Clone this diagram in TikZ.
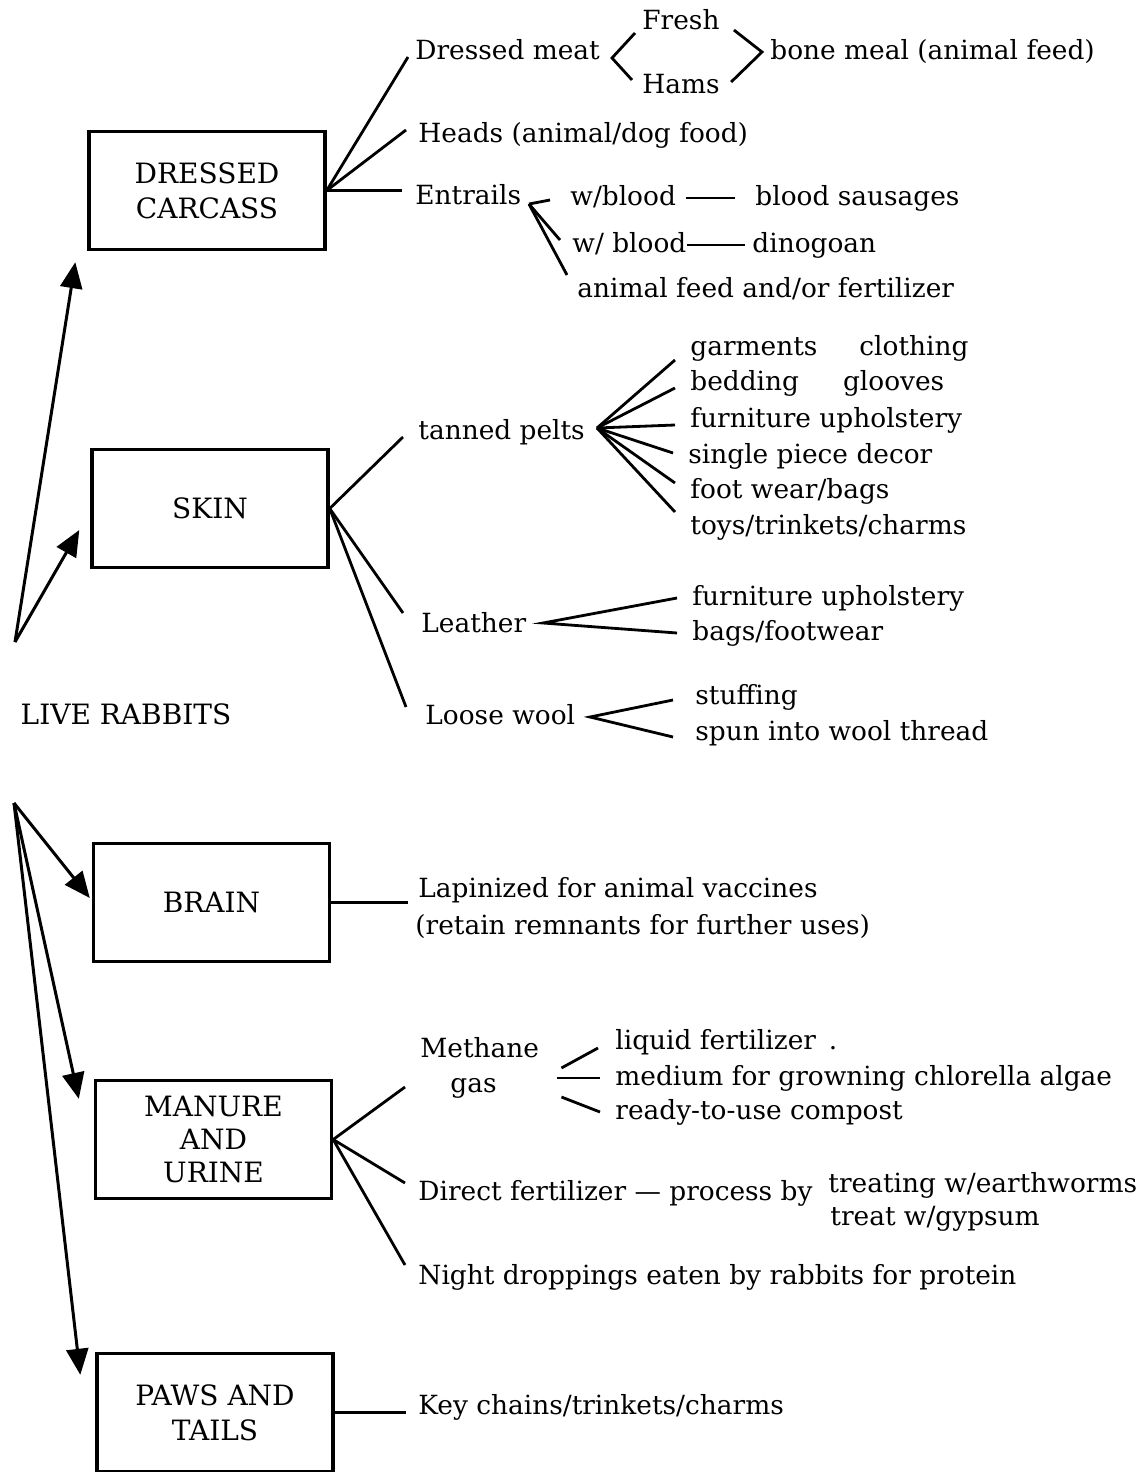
\documentclass[tikz,border=0pt]{standalone}
\usepackage{fontspec}
\setmainfont{DejaVu Serif}
\usetikzlibrary{arrows.meta}
\tikzset{
  part/.style={draw, line width=1.7pt, minimum width=118pt, minimum height=59pt,
    align=center, inner sep=0pt, font=\fontsize{14}{17.5}\selectfont},
  prod/.style={anchor=west, inner sep=0pt, text height=9.5pt, text depth=2.5pt,
    font=\fontsize{13.2}{16}\selectfont},
  branch/.style={line width=1.4pt},
  feed/.style={line width=1.5pt, -{Triangle[length=13pt,width=11pt]}},
}
\begin{document}
\begin{tikzpicture}[x=0.5pt,y=-0.5pt]
    \fill [white] (0,0) rectangle (1138,1472);
    \useasboundingbox (0,0) rectangle (1138,1472);
    % the five parts
    \node [part] (dc) at (207,190.5) {DRESSED\\CARCASS};
    \node [part] (skin) at (210,508.5) {SKIN};
    \node [part] (brain) at (211.5,902.5) {BRAIN};
    \node [part,font=\fontsize{14}{16.5}\selectfont] (manure) at (213.5,1139.5) {MANURE\\AND\\URINE};
    \node [part] (paws) at (215,1412.5) {PAWS AND\\TAILS};
    \node [prod,anchor=center,font=\fontsize{14}{17}\selectfont] (live) at (126,717) {LIVE RABBITS};
    \coordinate (up) at (15,642);
    \coordinate (dn) at (14,803);
    \draw [feed] (up) -- ([xshift=-6pt,yshift=-5.5pt]dc.south west);
    \draw [feed] (up) -- ([xshift=-5.5pt,yshift=-10.75pt]skin.west);
    \draw [feed] (dn) -- ([xshift=-1pt,yshift=2.25pt]brain.west);
    \draw [feed] (dn) -- ([xshift=-7.5pt,yshift=-10pt]manure.north west);
    \draw [feed] (dn) -- ([xshift=-7.5pt,yshift=-11.5pt]paws.north west);
    % dressed carcass
    \node [prod] (meat) at (415,52) {Dressed meat};
    \node [prod] (fresh) at (642,22) {Fresh};
    \node [prod] (hams) at (642,86) {Hams};
    \node [prod] (bone) at (770,52) {bone meal (animal feed)};
    \node [prod] (heads) at (418,135) {Heads (animal/dog food)};
    \node [prod] (entr) at (415,197) {Entrails};
    \node [prod] (wb1) at (570,198) {w/blood};
    \node [prod] (saus) at (755,198) {blood sausages};
    \node [prod] (wb2) at (572,245) {w/ blood};
    \node [prod] (dino) at (752,245) {dinogoan};
    \node [prod] (afeed) at (577,290) {animal feed and/or fertilizer};
    \coordinate (lt) at (612,58);
    \coordinate (gt) at (762,52);
    \coordinate (ef) at (529,204);
    \draw [branch] (dc.east) -- ([xshift=-3.5pt,yshift=-2.5pt]meat.west);
    \draw [branch] (dc.east) -- ([xshift=-6pt,yshift=2.5pt]heads.west);
    \draw [branch,shorten >=6.5pt] (dc.east) -- (dc.east -| entr.west);
    \draw [branch] ([xshift=-3.5pt,yshift=-5.5pt]fresh.west) -- (lt) -- ([xshift=-5pt,yshift=3pt]hams.west);
    \draw [branch] ([xshift=7pt,yshift=-4pt]fresh.east) -- (gt) -- ([xshift=5.5pt,yshift=2pt]hams.east);
    \draw [branch] (ef) -- ([xshift=-10pt,yshift=-1pt]wb1.west);
    \draw [branch] (ef) -- ([xshift=-6pt,yshift=2.5pt]wb2.west);
    \draw [branch] (ef) -- ([xshift=-5pt,yshift=7.5pt]afeed.west);
    \draw [branch,shorten <=5pt,shorten >=10pt] (wb1.east) -- (saus.west);
    \draw [branch,shorten >=3.5pt] (wb2.east) -- (dino.west);
    % skin
    \node [prod] (pelts) at (418,432) {tanned pelts};
    \node [prod] (p1) at (690,348) {garments\hspace{21pt}clothing};
    \node [prod] (p2) at (690,383) {bedding\hspace{22pt}glooves};
    \node [prod] (p3) at (690,420) {furniture upholstery};
    \node [prod] (p4) at (688,456) {single piece decor};
    \node [prod] (p5) at (690,491) {foot wear/bags};
    \node [prod] (p6) at (690,527) {toys/trinkets/charms};
    \node [prod] (leather) at (421,625) {Leather};
    \node [prod] (l1) at (692,598) {furniture upholstery};
    \node [prod] (l2) at (692,633) {bags/footwear};
    \node [prod] (wool) at (425,717) {Loose wool};
    \node [prod] (w1) at (695,697) {stuffing};
    \node [prod] (w2) at (695,733) {spun into wool thread};
    \coordinate (pf) at (597,428);
    \coordinate (lf) at (543,623);
    \coordinate (wf) at (590,717);
    \draw [branch] (skin.east) -- ([xshift=-7.5pt,yshift=-2.5pt]pelts.west);
    \draw [branch] (skin.east) -- ([xshift=-9pt,yshift=6pt]leather.west);
    \draw [branch] (skin.east) -- ([xshift=-9.5pt,yshift=5pt]wool.west);
    \foreach \n/\dy in {p1/-6,p2/-2.5,p3/-2.5,p4/1.5,p5/4,p6/7.5}
        \draw [branch] (pf) -- ([xshift=-7.5pt,yshift=\dy pt]\n.west);
    \draw [branch] ([xshift=-7.5pt]l1.west) -- (lf) -- ([xshift=-7.5pt]l2.west);
    \draw [branch] ([xshift=-11pt,yshift=-1.5pt]w1.west) -- (wf) -- ([xshift=-11pt,yshift=-2pt]w2.west);
    % brain
    \node [prod] (lapin) at (418,890) {Lapinized for animal vaccines};
    \node [prod] (remn) at (415,927) {(retain remnants for further uses)};
    \draw [branch,shorten >=5pt] (brain.east) -- (brain.east -| lapin.west);
    % manure and urine
    \node [prod] (meth) at (420,1050) {Methane};
    \node [prod] (gas) at (450,1085) {gas};
    \node [prod] (liq) at (615,1042) {liquid fertilizer\, .};
    \node [prod] (med) at (615,1078) {medium for growning chlorella algae};
    \node [prod] (comp) at (615,1112) {ready-to-use compost};
    \node [prod] (direct) at (418,1193) {Direct fertilizer — process by};
    \node [prod] (earth) at (828,1185) {treating w/earthworms};
    \node [prod] (gyp) at (830,1218) {treat w/gypsum};
    \node [prod] (night) at (418,1277) {Night droppings eaten by rabbits for protein};
    \draw [branch] (manure.east) -- ([xshift=-7.5pt,yshift=-18.5pt]meth.west);
    \draw [branch] (manure.east) -- ([xshift=-6.5pt,yshift=5pt]direct.west);
    \draw [branch] (manure.east) -- ([xshift=-6.5pt,yshift=6pt]night.west);
    \draw [branch] ([xshift=11pt,yshift=-9pt]meth.east) -- ([xshift=-8.5pt,yshift=-3pt]liq.west);
    \draw [branch] ([xshift=9pt,yshift=-14pt]meth.east) -- ([xshift=-7.5pt]med.west);
    \draw [branch] ([xshift=11pt,yshift=-23.5pt]meth.east) -- ([xshift=-7.5pt]comp.west);
    % paws and tails
    \node [prod] (key) at (418,1407) {Key chains/trinkets/charms};
    \draw [branch,shorten >=6pt] (paws.east) -- (paws.east -| key.west);
\end{tikzpicture}
\end{document}
